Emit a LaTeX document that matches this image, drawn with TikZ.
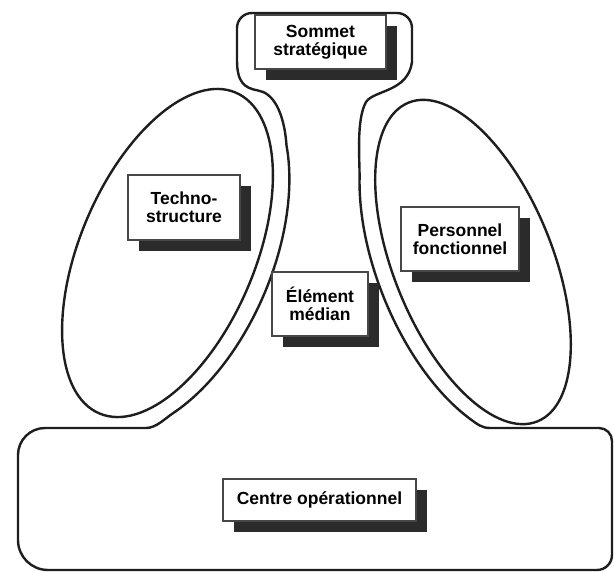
\documentclass[tikz,border=0pt]{standalone}
\usepackage{fontspec}
\setmainfont{Liberation Sans}
\usetikzlibrary{shadows}
\definecolor{ink}{HTML}{1E1E1E}
\definecolor{shade}{HTML}{2B2B2B}
\begin{document}
\begin{tikzpicture}[x=1pt,y=-1pt,
  outline/.style={draw=ink, line width=2.4pt, line join=round},
  unit/.style={draw=black!72, line width=1.4pt, fill=white, align=center, inner sep=0pt,
     font=\fontsize{17.5}{18}\selectfont\bfseries,
     drop shadow={shadow xshift=11pt, shadow yshift=-11pt, opacity=1, fill=shade, draw=none}}
]
\useasboundingbox (0,0) rectangle (614,572);

% outer outline
\draw[outline] (412,62) -- (412,28)
  .. controls (412,19.7) and (405.3,13) .. (397,13)
  -- (252,13)
  .. controls (243.7,13) and (237,19.7) .. (237,28)
  -- (237,60)
  .. controls (237,82) and (244,88) .. (258,90.5)
  .. controls (272,92.5) and (284,110) .. (286.5,145.4)
  -- plot[domain=40:140, samples=60, variable=\t]
     ({167.5+74.2*cos(\t)+96.7*sin(\t)}, {253-174.9*cos(\t)+41.0*sin(\t)})
  .. controls (164.6,418.9) and (156,428) .. (146,428)
  -- (45,428)
  .. controls (30.1,428) and (18,440.1) .. (18,455)
  -- (18,540)
  .. controls (18,556.6) and (31.4,570) .. (48,570)
  -- (597,570)
  .. controls (605.3,570) and (612,563.3) .. (612,555)
  -- (612,441)
  .. controls (612,433.8) and (606.2,428) .. (599,428)
  -- (490,428)
  .. controls (482,428) and (477.7,424.6) .. (469.7,418.6)
  -- plot[domain=-140:-50, samples=60, variable=\t]
     ({473-70.4*cos(\t)+89.0*sin(\t)}, {262-174.3*cos(\t)-36.0*sin(\t)})
  .. controls (359.8,160) and (356,120) .. (366,102)
  .. controls (374,90) and (408,92) .. (412,62)
  -- cycle;

% ellipses
\draw[outline, rotate around={-23:(167.5,253)}] (167.5,253) ellipse [x radius=87.4, y radius=174.3];
\draw[outline, rotate around={22:(473,262)}] (473,262) ellipse [x radius=79.4, y radius=171.9];

% units
\node[unit, minimum width=131, minimum height=54] (sommet) at (320.5,42) {Sommet\\stratégique};
\node[unit, minimum width=112, minimum height=65] (techno) at (184,207.5) {Techno-\\structure};
\node[unit, minimum width=118, minimum height=64] (fonct) at (460,239) {Personnel\\fonctionnel};
\node[unit, minimum width=96, minimum height=64] (median) at (320,304) {Élément\\médian};
\node[unit, minimum width=193, minimum height=42] (centre) at (319.5,500) {Centre opérationnel};
\end{tikzpicture}
\end{document}
